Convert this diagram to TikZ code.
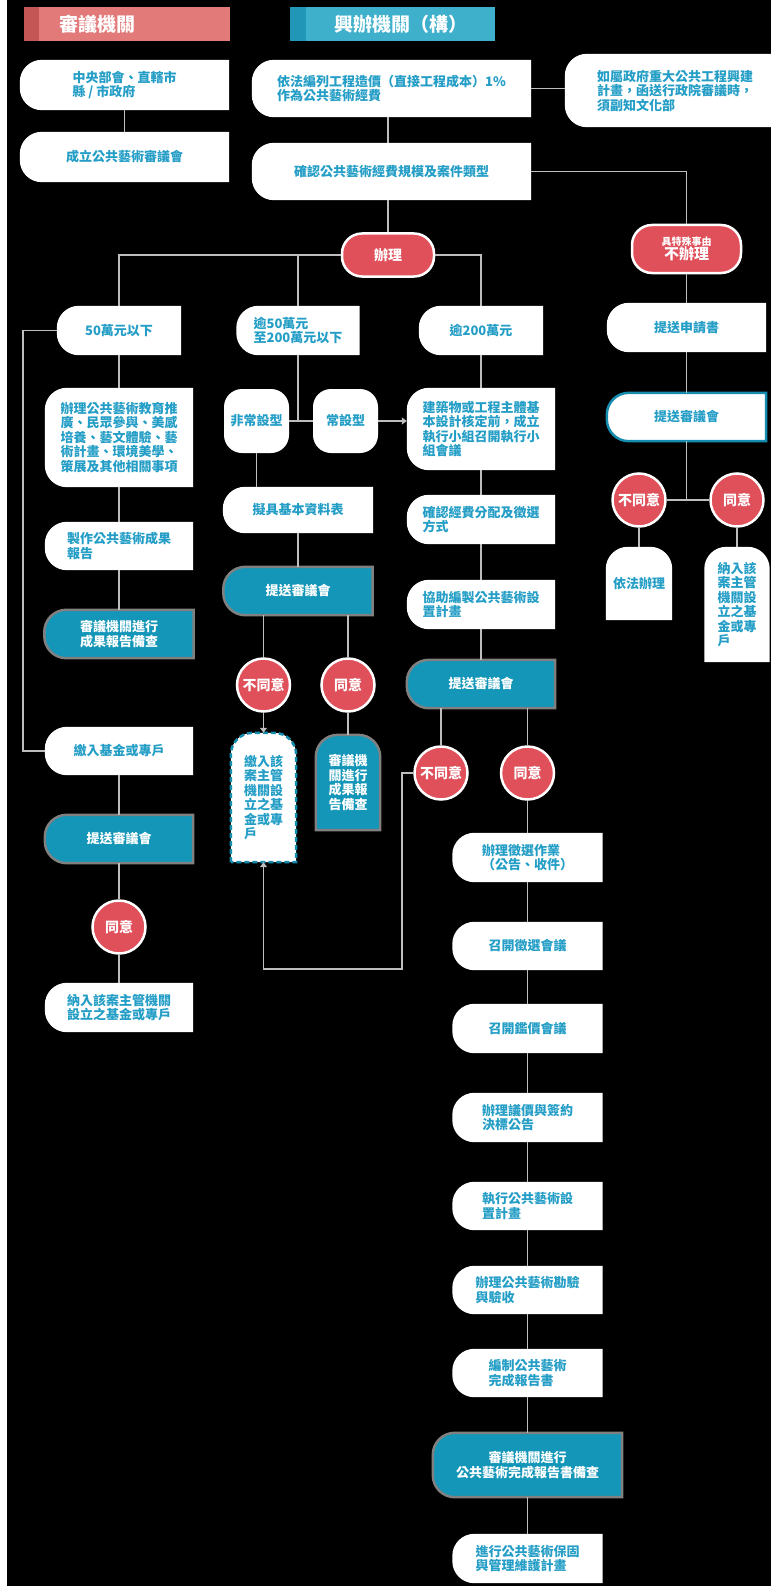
\documentclass[tikz,border=0pt]{standalone}
\usepackage{fontspec}
\setmainfont{Noto Sans CJK TC}
\usetikzlibrary{arrows.meta}

\definecolor{tealtext}{RGB}{36,158,198}
\definecolor{tealbox}{RGB}{20,150,184}
\definecolor{boxgray}{RGB}{128,128,128}
\definecolor{tealline}{RGB}{22,140,175}
\definecolor{redc}{RGB}{224,80,90}
\definecolor{redlight}{RGB}{226,122,122}
\definecolor{reddark}{RGB}{196,86,86}
\definecolor{teallight}{RGB}{62,176,204}
\definecolor{tealdark}{RGB}{34,150,182}
\definecolor{linegray}{RGB}{190,190,190}

\newcommand\boxr{22pt}
\newcommand\bx{\fontsize{13}{14.5}\selectfont\bfseries}
\newcommand\lround[2]{\path[#1] (#2.south east) -- (#2.north east) -- ([xshift=\boxr]#2.north west)
  arc[start angle=90, end angle=180, radius=\boxr] -- ([yshift=\boxr]#2.south west)
  arc[start angle=180, end angle=270, radius=\boxr] -- cycle;}
\newcommand\tround[2]{\path[#1] (#2.south west) -- ([yshift=-\boxr]#2.north west)
  arc[start angle=180, end angle=90, radius=\boxr] -- ([xshift=-\boxr]#2.north east)
  arc[start angle=90, end angle=0, radius=\boxr] -- (#2.south east) -- cycle;}

\pgfdeclarelayer{bg}
\pgfdeclarelayer{shape}
\pgfsetlayers{bg,shape,main}

\tikzset{
  sz/.style 2 args={minimum width=#1pt, minimum height=#2pt},
  wbox/.style={inner sep=0pt, align=left, text=tealtext, font=\bx},
  tbox/.style={inner sep=0pt, align=center, text=white, font=\bx},
  rbox/.style={wbox, fill=white, rounded corners=18pt, align=center},
  pill/.style={fill=redc, draw=white, line width=2.5pt, rounded corners=20pt, inner sep=0pt, text=white, align=center},
  yesno/.style={circle, fill=redc, draw=white, line width=2.5pt, minimum size=53pt, inner sep=0pt, text=white, font=\fontsize{14}{16}\selectfont\bfseries},
  hdrbox/.style={inner sep=0pt},
  hdrtxt/.style={inner sep=0pt, text=white, font=\fontsize{19}{22}\selectfont\bfseries},
  conn/.style={draw=linegray, line width=1.5pt},
  arr/.style={conn, -{Triangle[width=7pt,length=5pt]}},
  wfill/.style={fill=white},
  tfill/.style={fill=tealbox, draw=boxgray, line width=2.5pt},
  ofill/.style={fill=white, draw=tealline, line width=2.5pt},
  dfill/.style={fill=white, draw=tealline, line width=2.5pt, dash pattern=on 5pt off 3pt}
}

\begin{document}
\begin{tikzpicture}[x=1pt, y=-1pt]
\useasboundingbox (0,0) rectangle (771,1589);
\begin{pgfonlayer}{bg}
  \fill[white] (0,0) rectangle (771,1589);
  \fill[black] (7,0) rectangle (771,1586);
\end{pgfonlayer}

\node[hdrbox, fill=redlight, sz={206}{34}] (hdrA) at (127,24) {};
\fill[reddark] (hdrA.north west) rectangle ([xshift=15pt]hdrA.south west);
\node[hdrtxt, anchor=west] (hdrAt) at (59,24) {審議機關};
\node[hdrbox, fill=teallight, sz={205}{34}] (hdrB) at (392.5,24) {};
\fill[tealdark] (hdrB.north west) rectangle ([xshift=16pt]hdrB.south west);
\node[hdrtxt, anchor=west] (hdrBt) at (334,24) {興辦機關（構）};

\node[wbox, sz={209}{50}] (gov) at (124.5,85) {中央部會、直轄市\\縣 / 市政府};
\node[wbox, sz={209}{50}] (comm) at (124.5,157) {成立公共藝術審議會};
\node[wbox, sz={279}{57}] (budget) at (391.5,88.5) {依法編列工程造價（直接工程成本）1\%\\作為公共藝術經費};
\node[wbox, sz={220}{73}] (major) at (675,90.5) {如屬政府重大公共工程興建\\計畫，函送行政院審議時，\\須副知文化部};
\node[wbox, sz={279}{57}] (scale) at (391.5,171.5) {確認公共藝術經費規模及案件類型};
\node[pill, sz={92}{43}, font=\fontsize{14}{16}\selectfont\bfseries] (do) at (388,255) {辦理};
\node[pill, sz={109}{48}] (nodo) at (686.5,249) {{\fontsize{10}{11}\selectfont\bfseries 具特殊事由}\\{\fontsize{15}{16}\selectfont\bfseries 不辦理}};

\node[wbox, sz={124}{49}] (below50) at (119,330.5) {50萬元以下};
\node[wbox, sz={148}{99}] (edu) at (119,437.5) {辦理公共藝術教育推\\廣、民眾參與、美感\\培養、藝文體驗、藝\\術計畫、環境美學、\\策展及其他相關事項};
\node[wbox, sz={148}{48}] (report) at (119,546) {製作公共藝術成果\\報告};
\node[tbox, sz={149}{48}] (check1) at (119,634) {審議機關進行\\成果報告備查};
\node[wbox, sz={148}{48}] (fund1) at (119,751) {繳入基金或專戶};
\node[tbox, sz={148}{48}] (submit1) at (119,839) {提送審議會};
\node[yesno] (agree1) at (119,927) {同意};
\node[wbox, sz={148}{49}] (incl1) at (119,1007.5) {納入該案主管機關\\設立之基金或專戶};

\node[wbox, sz={123}{49}] (mid) at (298,330.5) {逾50萬元\\至200萬元以下};
\node[rbox, sz={65}{64}] (temp) at (256.5,421) {非常設型};
\node[rbox, sz={65}{64}] (perm) at (345.5,421) {常設型};
\node[wbox, sz={150}{46}] (basic) at (298,510) {擬具基本資料表};
\node[tbox, sz={149}{48}] (submit2) at (298,591) {提送審議會};
\node[yesno] (disagree2) at (263.5,685) {不同意};
\node[yesno] (agree2) at (348,685) {同意};
\node[wbox, sz={65}{129}] (pay2) at (263.5,797.5) {繳入該\\案主管\\機關設\\立之基\\金或專\\戶};
\node[tbox, sz={64}{95}] (check2) at (348,782.5) {審議機\\關進行\\成果報\\告備查};

\node[wbox, sz={124}{49}] (above200) at (481,330.5) {逾200萬元};
\node[wbox, sz={148}{82}] (build) at (481,429) {建築物或工程主體基\\本設計核定前，成立\\執行小組召開執行小\\組會議};
\node[wbox, sz={148}{49}] (alloc) at (481,519.5) {確認經費分配及徵選\\方式};
\node[wbox, sz={148}{49}] (plan) at (481,604.5) {協助編製公共藝術設\\置計畫};
\node[tbox, sz={148}{48}] (submit3) at (481,684) {提送審議會};
\node[yesno] (disagree3) at (441,773) {不同意};
\node[yesno] (agree3) at (527.5,773) {同意};
\node[wbox, sz={150}{49}] (call) at (527.5,857.5) {辦理徵選作業\\（公告、收件）};
\node[wbox, sz={150}{48}] (selmeet) at (527.5,946) {召開徵選會議};
\node[wbox, sz={150}{49}] (apprmeet) at (527.5,1028.5) {召開鑑價會議};
\node[wbox, sz={150}{49}] (contract) at (527.5,1117.5) {辦理議價與簽約\\決標公告};
\node[wbox, sz={150}{48}] (exec) at (527.5,1206) {執行公共藝術設\\置計畫};
\node[wbox, sz={150}{48}] (accept) at (527.5,1290) {辦理公共藝術勘驗\\與驗收};
\node[wbox, sz={150}{48}] (final) at (527.5,1373) {編制公共藝術\\完成報告書};
\node[tbox, sz={189}{64}] (check3) at (527.5,1465) {審議機關進行\\公共藝術完成報告書備查};
\node[wbox, sz={150}{49}] (maint) at (527.5,1558.5) {進行公共藝術保固\\與管理維護計畫};

\node[wbox, sz={159}{49}] (apply) at (686.5,327.5) {提送申請書};
\node[wbox, sz={159}{48}] (submit4) at (686.5,417) {提送審議會};
\node[yesno] (disagree4) at (639,500) {不同意};
\node[yesno] (agree4) at (737,500) {同意};
\node[wbox, sz={66}{73}] (legal) at (639,583.5) {依法辦理};
\node[wbox, sz={65}{115}] (incl4) at (737,604.5) {納入該\\案主管\\機關設\\立之基\\金或專\\戶};

\begin{pgfonlayer}{shape}
  \foreach \n in {gov,comm,budget,major,scale,below50,edu,report,fund1,incl1,mid,basic,
    above200,build,alloc,plan,call,selmeet,apprmeet,contract,exec,accept,final,maint,apply}
    {\lround{wfill}{\n}}
  \foreach \n in {check1,submit1,submit2,submit3,check3}
    {\lround{tfill}{\n}}
  \lround{ofill}{submit4}
  \tround{wfill}{legal}
  \tround{wfill}{incl4}
  \tround{tfill}{check2}
  \tround{dfill}{pay2}
\end{pgfonlayer}

\draw[conn] (gov) -- (comm);
\draw[conn] (budget.east) -- (budget.east -| major.west);
\draw[conn] (budget.south -| do) -- (scale.north -| do);
\draw[conn] (scale.south -| do) -- (do);
\draw[conn] (scale.east) -| (nodo);
\draw[conn] (do.west) -| (below50);
\draw[conn] (do.west -| mid) -- (mid);
\draw[conn] (do.east) -| (above200);

\draw[conn] (below50) -- (edu) -- (report) -- (check1);
\draw[conn] (below50.west) -- ++(-34,0) |- (fund1.west);
\draw[conn] (fund1) -- (submit1) -- (agree1) -- (incl1);

\draw[conn] (mid.south) -- (mid.south |- temp.east);
\draw[conn] (temp) -- (perm);
\draw[arr] (perm.east) -- (perm.east -| build.west);
\draw[conn] (temp.south) -- (temp.south |- basic.north);
\draw[conn] (basic) -- (submit2);
\draw[conn] (submit2.south -| disagree2) -- (disagree2);
\draw[conn] (submit2.south -| agree2) -- (agree2);
\draw[arr] (disagree2) -- (pay2);
\draw[conn] (agree2) -- (check2);

\draw[conn] (above200) -- (build) -- (alloc) -- (plan) -- (submit3);
\draw[conn] (submit3.south -| disagree3) -- (disagree3);
\draw[conn] (submit3.south -| agree3) -- (agree3);
\coordinate (turn) at (402,969);
\draw[arr] (disagree3.west) -| (turn) -| (pay2.south);
\draw[conn] (agree3) -- (call) -- (selmeet) -- (apprmeet) -- (contract) -- (exec) -- (accept) -- (final) -- (check3) -- (maint);

\draw[conn] (nodo) -- (apply) -- (submit4);
\draw[conn] (submit4.south) -- (submit4.south |- disagree4.east);
\draw[conn] (disagree4) -- (agree4);
\draw[conn] (disagree4) -- (legal);
\draw[conn] (agree4) -- (incl4);
\end{tikzpicture}
\end{document}
